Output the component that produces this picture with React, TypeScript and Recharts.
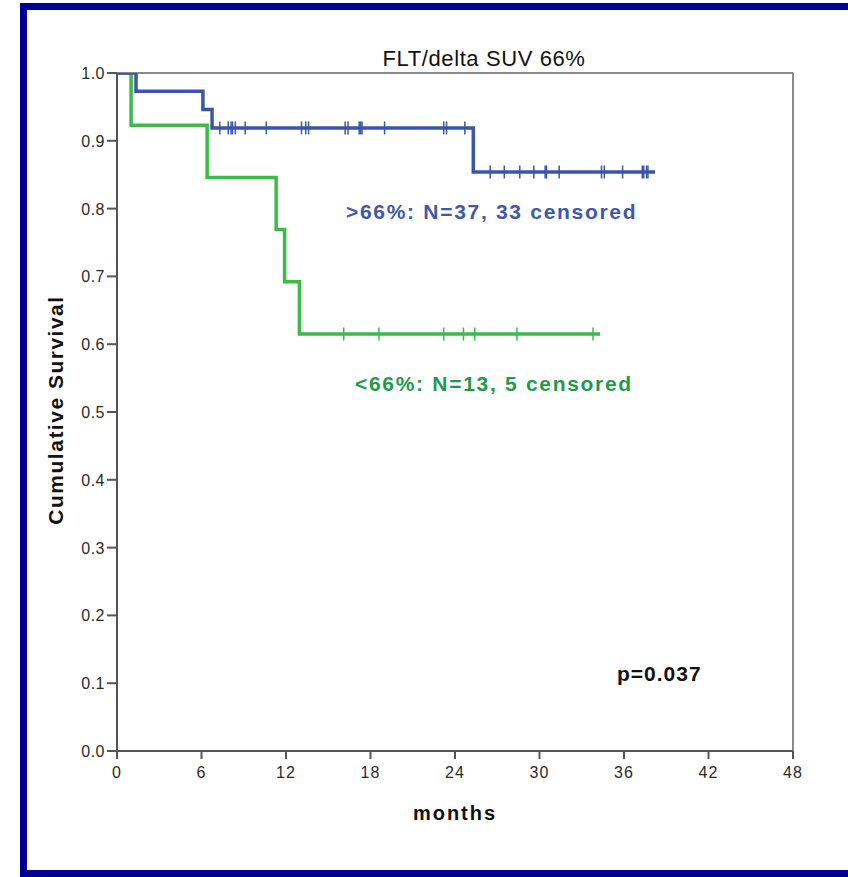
import React from "react";
import {
  ComposedChart,
  Line,
  Scatter,
  XAxis,
  YAxis,
  ReferenceLine
} from "recharts";

// Kaplan-Meier steps (months, cumulative survival)
const highSteps = [
  { t: 0, s: 1.0 },
  { t: 1.35, s: 0.973 },
  { t: 6.1, s: 0.946 },
  { t: 6.75, s: 0.919 },
  { t: 25.3, s: 0.854 },
  { t: 38.2, s: 0.854 }
];

const lowSteps = [
  { t: 0, s: 1.0 },
  { t: 1.0, s: 0.923 },
  { t: 6.4, s: 0.846 },
  { t: 11.3, s: 0.769 },
  { t: 11.9, s: 0.692 },
  { t: 12.95, s: 0.615 },
  { t: 34.3, s: 0.615 }
];

// censored cases
const highCensored = [
  { t: 7.3, s: 0.919 }, { t: 7.9, s: 0.919 }, { t: 8.1, s: 0.919 }, { t: 8.2, s: 0.919 },
  { t: 8.4, s: 0.919 }, { t: 9.1, s: 0.919 }, { t: 10.6, s: 0.919 }, { t: 13.1, s: 0.919 },
  { t: 13.4, s: 0.919 }, { t: 13.6, s: 0.919 }, { t: 16.2, s: 0.919 }, { t: 16.4, s: 0.919 },
  { t: 17.2, s: 0.919 }, { t: 17.3, s: 0.919 }, { t: 17.4, s: 0.919 }, { t: 19.0, s: 0.919 },
  { t: 23.2, s: 0.919 }, { t: 23.4, s: 0.919 }, { t: 24.7, s: 0.919 },
  { t: 26.5, s: 0.854 }, { t: 27.5, s: 0.854 }, { t: 28.6, s: 0.854 }, { t: 29.6, s: 0.854 },
  { t: 30.4, s: 0.854 }, { t: 30.5, s: 0.854 }, { t: 31.4, s: 0.854 }, { t: 34.4, s: 0.854 },
  { t: 34.6, s: 0.854 }, { t: 35.9, s: 0.854 }, { t: 37.3, s: 0.854 }, { t: 37.4, s: 0.854 },
  { t: 37.6, s: 0.854 }, { t: 37.7, s: 0.854 }
];

const lowCensored = [
  { t: 16.1, s: 0.615 }, { t: 18.6, s: 0.615 }, { t: 23.2, s: 0.615 }, { t: 24.6, s: 0.615 },
  { t: 25.4, s: 0.615 }, { t: 28.4, s: 0.615 }, { t: 33.8, s: 0.615 }
];

const xTicks = [0, 6, 12, 18, 24, 30, 36, 42, 48];
const yTicks = [0, 0.1, 0.2, 0.3, 0.4, 0.5, 0.6, 0.7, 0.8, 0.9, 1.0];

const BLUE = "#3b55a9";
const GREEN = "#3dbb49";
const FONT = "'Liberation Sans', Arial, sans-serif";

const censorMark = (color: string) => (props: any) => {
  const { cx, cy } = props;
  return <line x1={cx} x2={cx} y1={cy - 6.5} y2={cy + 6.5} stroke={color} strokeWidth={1.5} />;
};

function XTick(props: any) {
  const { x, y, payload } = props;
  return (
    <text x={x} y={y + 19} textAnchor="middle" style={{ fontSize: 16, fontFamily: FONT, letterSpacing: 1 }} fill="#2a2a2a">
      {payload.value}
    </text>
  );
}

function YTick(props: any) {
  const { x, y, payload } = props;
  return (
    <text x={x - 1} y={y + 6} textAnchor="end" style={{ fontSize: 16, fontFamily: FONT, letterSpacing: 0.5 }} fill="#2a2a2a">
      {Number(payload.value).toFixed(1)}
    </text>
  );
}

export default function App() {
  return (
    <div style={{ position: "absolute", left: 0, top: 0, width: 848, height: 877, overflow: "hidden", background: "#fff" }}>
      <div
        style={{
          position: "absolute",
          left: 20,
          top: 3,
          width: 840,
          height: 874,
          boxSizing: "border-box",
          border: "7px solid #000099"
        }}
      />
      <div style={{ position: "absolute", left: 0, top: 0 }}>
        <ComposedChart width={848} height={877} margin={{ top: 73, right: 55, left: 57, bottom: 86 }}>
          <XAxis
            type="number"
            dataKey="t"
            domain={[0, 48]}
            ticks={xTicks}
            height={40}
            tickSize={8}
            tickMargin={0}
            axisLine={{ stroke: "#555", strokeWidth: 2 }}
            tickLine={{ stroke: "#555", strokeWidth: 2 }}
            tick={XTick}
            allowDataOverflow
          />
          <YAxis
            type="number"
            dataKey="s"
            domain={[0, 1]}
            ticks={yTicks}
            width={60}
            tickSize={10}
            tickMargin={1}
            axisLine={{ stroke: "#555", strokeWidth: 2 }}
            tickLine={{ stroke: "#555", strokeWidth: 2 }}
            tick={YTick}
            allowDataOverflow
          />
          <ReferenceLine y={1} stroke="#8a8a8a" strokeWidth={2} />
          <ReferenceLine x={48} stroke="#8a8a8a" strokeWidth={2} />
          <Line
            data={lowSteps}
            dataKey="s"
            type="stepAfter"
            stroke={GREEN}
            strokeWidth={3.5}
            dot={false}
            isAnimationActive={false}
          />
          <Line
            data={highSteps}
            dataKey="s"
            type="stepAfter"
            stroke={BLUE}
            strokeWidth={3.5}
            dot={false}
            isAnimationActive={false}
          />
          <Scatter data={lowCensored} dataKey="s" shape={censorMark(GREEN)} isAnimationActive={false} />
          <Scatter data={highCensored} dataKey="s" shape={censorMark(BLUE)} isAnimationActive={false} />
        </ComposedChart>
      </div>
      <svg
        width={848}
        height={877}
        style={{ position: "absolute", left: 0, top: 0, pointerEvents: "none" }}
        fontFamily={FONT}
      >
        <text x={484} y={66} textAnchor="middle" fontSize={22} letterSpacing={0.6} fill="#111">
          FLT/delta SUV 66%
        </text>
        <text x={346} y={219} fontSize={21} fontWeight="bold" letterSpacing={1.7} fill="#3f58ac">
          &gt;66%: N=37, 33 censored
        </text>
        <text x={355} y={391} fontSize={21} fontWeight="bold" letterSpacing={1.7} fill="#1f9a4c">
          &lt;66%: N=13, 5 censored
        </text>
        <text x={617} y={681} fontSize={21} fontWeight="bold" letterSpacing={1} fill="#111">
          p=0.037
        </text>
        <text x={455} y={820} textAnchor="middle" fontSize={20} fontWeight="bold" letterSpacing={2} fill="#111">
          months
        </text>
        <text
          x={0}
          y={0}
          transform="translate(63,410) rotate(-90)"
          textAnchor="middle"
          fontSize={21}
          fontWeight="bold"
          letterSpacing={1.5}
          fill="#111"
        >
          Cumulative Survival
        </text>
      </svg>
    </div>
  );
}
